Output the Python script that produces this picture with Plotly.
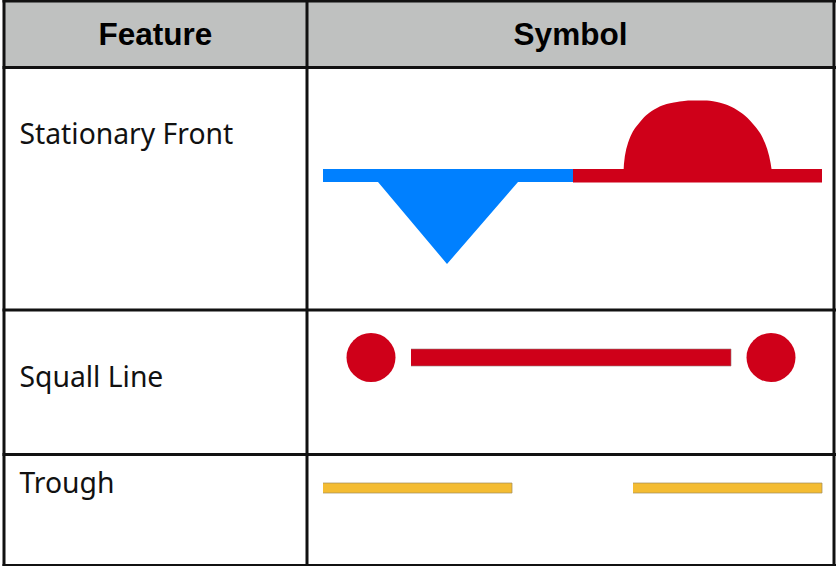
import plotly.graph_objects as go

W, H = 836, 566
header_labels = ["Feature", "Symbol"]
row_labels = ["Stationary Front", "Squall Line", "Trough"]
header_label_x = [155.5, 570.5]
header_label_y = [37, 37]
row_label_x = [19.5, 19.5, 19.5]
row_label_y = [136.5, 379.5, 485.5]

h_rules = [1, 67.5, 310, 454.5, 565.5]
v_rules = [4, 307, 834]

RED, BLUE, YELLOW = "#cf0019", "#0080ff", "#f4bc32"

blue_bar_x = [323, 573, 573, 518, 447, 378, 323]
blue_bar_y = [169, 169, 182, 182, 264, 182, 182]
red_bar_x = [573, 822, 822, 573]
red_bar_y = [169, 169, 182.5, 182.5]
dome_x = [623.5, 628, 640, 657, 677, 697, 717, 737, 753, 765, 772]
dome_y = [172, 143, 122, 108, 102, 100.5, 102, 110, 124, 143, 172]

squall_bar_x = [411, 731, 731, 411]
squall_bar_y = [349, 349, 366, 366]
squall_dot_x = [371, 771]
squall_dot_y = [357.5, 357.5]

trough_a_x = [323, 512, 512, 323]
trough_b_x = [633, 822, 822, 633]
trough_y = [483, 483, 493, 493]

fig = go.Figure()

def poly(x, y, color, edge=None, shape="linear", smoothing=1.0):
    fig.add_trace(go.Scatter(x=x, y=y, mode="lines", fill="toself", fillcolor=color,
                             line=dict(color=edge or color, width=1 if edge else 0, shape=shape,
                                       smoothing=smoothing),
                             hoverinfo="skip", showlegend=False))

poly([4, 834, 834, 4], [1, 1, 67.5, 67.5], "#bfc1c0")
poly(blue_bar_x, blue_bar_y, BLUE)
poly(red_bar_x, red_bar_y, RED)
poly(dome_x, dome_y, RED, shape="spline", smoothing=1.3)
poly(squall_bar_x, squall_bar_y, RED, "rgba(150,120,120,0.6)")
fig.add_trace(go.Scatter(x=squall_dot_x, y=squall_dot_y, mode="markers",
                         marker=dict(size=49, color=RED, line=dict(width=0)),
                         hoverinfo="skip", showlegend=False))
poly(trough_a_x, trough_y, YELLOW, "rgba(160,140,90,0.7)")
poly(trough_b_x, trough_y, YELLOW, "rgba(160,140,90,0.7)")

for y in h_rules:
    fig.add_trace(go.Scatter(x=[2.5, 836], y=[y, y], mode="lines", line=dict(color="#111", width=3),
                             hoverinfo="skip", showlegend=False))
for x in v_rules:
    fig.add_trace(go.Scatter(x=[x, x], y=[0, H], mode="lines", line=dict(color="#111", width=3),
                             hoverinfo="skip", showlegend=False))

fig.add_trace(go.Scatter(x=header_label_x, y=header_label_y, text=header_labels, mode="text",
                         textposition="middle center",
                         textfont=dict(family="Liberation Sans", size=31.5, color="#000"),
                         texttemplate="<b>%{text}</b>", hoverinfo="skip", showlegend=False))
fig.add_trace(go.Scatter(x=row_label_x, y=row_label_y, text=row_labels, mode="text",
                         textposition="middle right",
                         textfont=dict(family="Noto Sans", size=28.3, color="#111"),
                         hoverinfo="skip", showlegend=False))

fig.update_layout(width=W, height=H, margin=dict(l=0, r=0, t=0, b=0),
                  paper_bgcolor="white", plot_bgcolor="white", showlegend=False,
                  xaxis=dict(range=[0, W], visible=False, fixedrange=True),
                  yaxis=dict(range=[H, 0], visible=False, fixedrange=True))
fig.write_html("out.html", config=dict(displayModeBar=False),
               post_script="document.body.style.margin='0';document.body.style.overflow='hidden';")
